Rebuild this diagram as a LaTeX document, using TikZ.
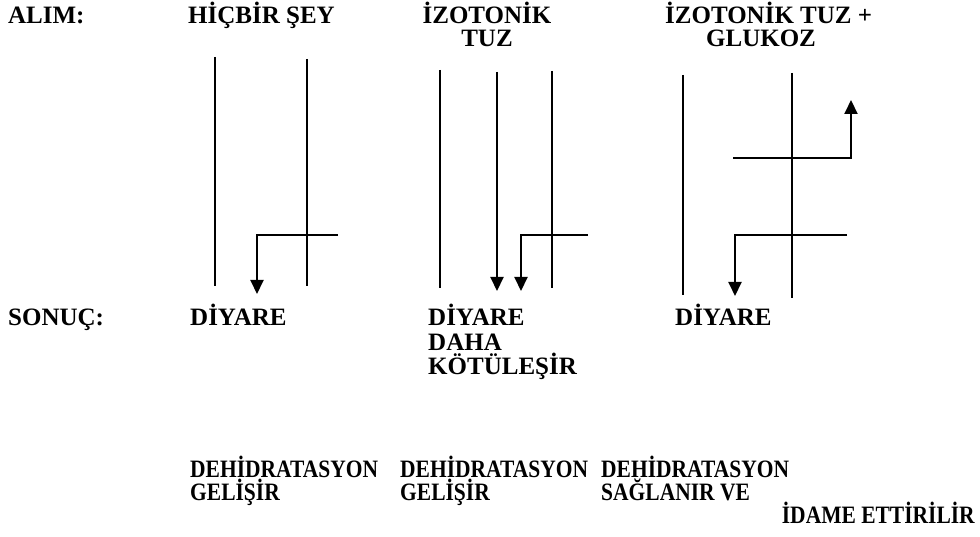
\documentclass[tikz,border=0pt]{standalone}
\usepackage{fontspec}
\setmainfont{Liberation Serif}
\newfontfamily\topfnt{Liberation Serif Bold}
\newfontfamily\botfnt[FakeStretch=0.86]{Liberation Serif Bold}
\usetikzlibrary{arrows.meta}
\begin{document}
\begin{tikzpicture}[x=1pt,y=-1pt,
  lbl/.style={anchor=base west,inner sep=0pt,font=\topfnt\fontsize{25}{27}\selectfont},
  clbl/.style={anchor=base,inner sep=0pt,font=\topfnt\fontsize{25}{27}\selectfont},
  blbl/.style={anchor=base west,inner sep=0pt,font=\botfnt\fontsize{25}{26}\selectfont},
  wall/.style={line width=2pt},
  flow/.style={line width=2pt,-{Triangle[width=13pt,length=14pt]}}]
\useasboundingbox (0,0) rectangle (980,537);
% headers
\node[lbl] (alim) at (8,24) {ALIM:};
\node[lbl] (h1) at (188,24) {HİÇBİR ŞEY};
\node[clbl] (h2a) at (487,24) {İZOTONİK};
\node[clbl] (h2b) at (487,47) {TUZ};
\node[lbl] (h3a) at (665,24) {İZOTONİK TUZ +};
\node[clbl] (h3b) at (761,47) {GLUKOZ};
% results
\node[lbl] (sonuc) at (8,326) {SONUÇ:};
\node[lbl] (r1) at (190,326) {DİYARE};
\node[lbl] (r2a) at (428,326) {DİYARE};
\node[lbl] (r2b) at (428,350) {DAHA};
\node[lbl] (r2c) at (428,374) {KÖTÜLEŞİR};
\node[lbl] (r3) at (675,326) {DİYARE};
% bottom
\node[blbl] (d1a) at (190,477) {DEHİDRATASYON};
\node[blbl] (d1b) at (190,500) {GELİŞİR};
\node[blbl] (d2a) at (400,477) {DEHİDRATASYON};
\node[blbl] (d2b) at (400,500) {GELİŞİR};
\node[blbl] (d3a) at (601,477) {DEHİDRATASYON};
\node[blbl] (d3b) at (601,500) {SAĞLANIR VE};
\node[blbl,anchor=base east] (d3c) at (975,523) {İDAME ETTİRİLİR};
% panel 1
\draw[wall] (215,57) -- (215,286);
\draw[wall] (307,59) -- (307,286);
\coordinate (p1s) at (338,235);
\coordinate (p1c) at (257,235);
\coordinate (p1e) at (257,294);
\draw[flow] (p1s) -- (p1c) -- (p1e);
% panel 2
\draw[wall] (440,70) -- (440,288);
\draw[wall] (552,71) -- (552,288);
\coordinate (p2a) at (497,72);
\coordinate (p2b) at (497,291);
\draw[flow] (p2a) -- (p2b);
\coordinate (p2s) at (588,235);
\coordinate (p2c) at (521,235);
\coordinate (p2e) at (521,291);
\draw[flow] (p2s) -- (p2c) -- (p2e);
% panel 3
\draw[wall] (683,75) -- (683,295);
\draw[wall] (792,73) -- (792,298);
\coordinate (p3s) at (733,158);
\coordinate (p3c) at (851,158);
\coordinate (p3e) at (851,100);
\draw[flow] (p3s) -- (p3c) -- (p3e);
\coordinate (p3t) at (847,235);
\coordinate (p3u) at (735,235);
\coordinate (p3v) at (735,296);
\draw[flow] (p3t) -- (p3u) -- (p3v);
\end{tikzpicture}
\end{document}
